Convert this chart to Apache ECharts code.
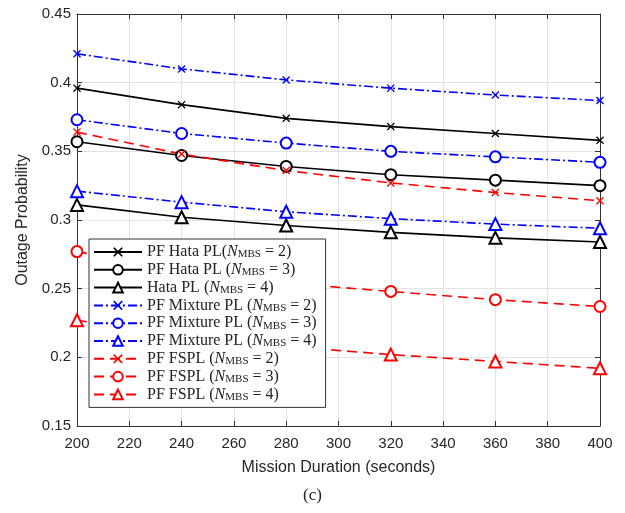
<!DOCTYPE html>
<html><head><meta charset="utf-8">
<script src="https://cdn.jsdelivr.net/npm/echarts@6/dist/echarts.min.js"></script>
<style>html,body{margin:0;padding:0;background:#fff}#c{width:625px;height:513px}</style>
</head><body><div id="c"></div>
<script>
const durations = [200, 240, 280, 320, 360, 400];
const xTicks = {min: 200, max: 400, step: 20};
const yTicks = {min: 0.15, max: 0.45, step: 0.05};

const hataN2 = [0.396, 0.384, 0.374, 0.368, 0.363, 0.358];
const hataN3 = [0.357, 0.347, 0.339, 0.333, 0.329, 0.325];
const hataN4 = [0.311, 0.302, 0.296, 0.291, 0.287, 0.284];
const mixN2 = [0.421, 0.410, 0.402, 0.396, 0.391, 0.387];
const mixN3 = [0.373, 0.363, 0.356, 0.350, 0.346, 0.342];
const mixN4 = [0.321, 0.313, 0.306, 0.301, 0.297, 0.294];
const fsplN2 = [0.364, 0.348, 0.336, 0.327, 0.320, 0.314];
const fsplN3 = [0.277, 0.263, 0.254, 0.248, 0.242, 0.237];
const fsplN4 = [0.227, 0.216, 0.208, 0.202, 0.197, 0.192];

const seriesPrefixes = ['PF Hata PL(', 'PF Hata PL (', 'Hata PL (', 'PF Mixture PL (', 'PF Mixture PL (', 'PF Mixture PL (', 'PF FSPL (', 'PF FSPL (', 'PF FSPL ('];
const seriesN = [2, 3, 4, 2, 3, 4, 2, 3, 4];
const seriesValues = [hataN2, hataN3, hataN4, mixN2, mixN3, mixN4, fsplN2, fsplN3, fsplN4];

const crossPath = 'path://M0,1.2L1.2,0L5,3.8L8.8,0L10,1.2L6.2,5L10,8.8L8.8,10L5,6.2L1.2,10L0,8.8L3.8,5Z';
const colors = ['#000000', '#0000ff', '#ff0000'];
const dashes = ['solid', [9, 3, 2, 3], [10, 6]];
const markers = [crossPath, 'emptyCircle', 'emptyTriangle'];
const markerSizes = [8, 11, 12];

const series = seriesValues.map((vals, i) => {
  const fam = Math.floor(i / 3), m = i % 3;
  const name = seriesPrefixes[i] + 'N_MBS = ' + seriesN[i] + ')#' + i;
  return {
    name: name,
    type: 'line',
    data: durations.map((d, k) => [d, vals[k]]),
    symbol: markers[m],
    symbolSize: markerSizes[m],
    showAllSymbol: true,
    smooth: false,
    z: 3,
    lineStyle: {color: colors[fam], width: 1.6, type: dashes[fam]},
    itemStyle: {color: colors[fam], borderWidth: m === 0 ? 0 : 1.6},
    emphasis: {disabled: true}
  };
});

const chart = echarts.init(document.getElementById('c'), null, {renderer: 'canvas'});
const axisCol = '#333';
const gridCol = '#e3e3e3';
const sans = '"Liberation Sans", Arial, sans-serif';
const serif = '"Liberation Serif", "DejaVu Serif", serif';

chart.setOption({
  animation: false,
  backgroundColor: '#fff',
  grid: {left: 77, right: 25, top: 14, bottom: 87},
  xAxis: [{
    type: 'value', min: xTicks.min, max: xTicks.max, interval: xTicks.step,
    name: 'Mission Duration (seconds)', nameLocation: 'middle', nameGap: 34,
    nameTextStyle: {fontFamily: sans, fontSize: 16, color: '#262626'},
    axisLine: {lineStyle: {color: axisCol, width: 1}},
    axisTick: {inside: true, length: 5, lineStyle: {color: axisCol}},
    axisLabel: {fontFamily: sans, fontSize: 15, color: '#262626', margin: 10},
    splitLine: {show: true, lineStyle: {color: gridCol, width: 1}}
  }, {
    type: 'value', position: 'top', min: xTicks.min, max: xTicks.max, interval: xTicks.step,
    axisLine: {show: true, lineStyle: {color: axisCol, width: 1}},
    axisTick: {show: true, inside: true, length: 5, lineStyle: {color: axisCol}},
    axisLabel: {show: false}, splitLine: {show: false}
  }],
  yAxis: [{
    type: 'value', min: yTicks.min, max: yTicks.max, interval: yTicks.step,
    name: 'Outage Probability', nameLocation: 'middle', nameGap: 46,
    nameTextStyle: {fontFamily: sans, fontSize: 16, color: '#262626'},
    axisLine: {show: true, lineStyle: {color: axisCol, width: 1}},
    axisTick: {show: true, inside: true, length: 5, lineStyle: {color: axisCol}},
    axisLabel: {fontFamily: sans, fontSize: 15, color: '#262626', margin: 6},
    splitLine: {show: true, lineStyle: {color: gridCol, width: 1}}
  }, {
    type: 'value', position: 'right', min: yTicks.min, max: yTicks.max, interval: yTicks.step,
    axisLine: {show: true, lineStyle: {color: axisCol, width: 1}},
    axisTick: {show: true, inside: true, length: 5, lineStyle: {color: axisCol}},
    axisLabel: {show: false}, splitLine: {show: false}
  }],
  legend: {
    orient: 'vertical', left: 89, top: 239,
    backgroundColor: '#fff', borderColor: '#333', borderWidth: 1,
    padding: [5, 9, 5, 4],
    itemWidth: 48, itemHeight: 12, itemGap: 1.8,
    data: series.map(s => s.name),
    formatter: function (name) {
      const i = +name.split('#')[1];
      return '{t|' + seriesPrefixes[i] + '}{n|N}{s|MBS}{t| = ' + seriesN[i] + ')}';
    },
    textStyle: {
      color: '#222', fontFamily: serif, fontSize: 16,
      rich: {
        t: {fontFamily: serif, fontSize: 16, color: '#222', lineHeight: 16, verticalAlign: 'middle'},
        n: {fontFamily: serif, fontSize: 16, fontStyle: 'italic', color: '#222', lineHeight: 16, verticalAlign: 'middle'},
        s: {fontFamily: serif, fontSize: 11, color: '#222', lineHeight: 11, verticalAlign: 'middle', padding: [5, 0, 0, 0]}
      }
    }
  },
  graphic: [{
    type: 'text', left: 'center', top: 487,
    style: {text: '(c)', fontFamily: serif, fontSize: 17, fill: '#222'}
  }],
  series: series
});
</script></body></html>
